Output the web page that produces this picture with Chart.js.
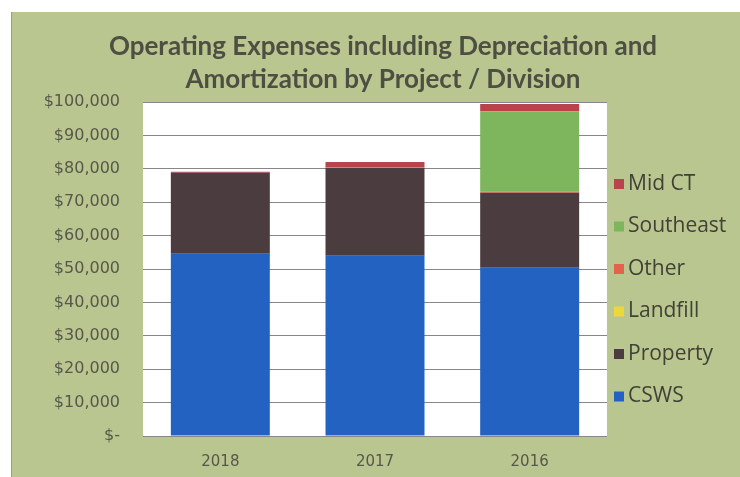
<!DOCTYPE html>
<html>
<head>
<meta charset="utf-8">
<script src="https://cdn.jsdelivr.net/npm/chart.js@4/dist/chart.umd.min.js"></script>
<style>
html,body{margin:0;padding:0;background:#fff;}
#wrap{width:740px;height:477px;position:relative;}
</style>
</head>
<body>
<div id="wrap"><canvas id="c" width="740" height="477"></canvas></div>
<script>
const titleLines = ["Operating Expenses including Depreciation and", "Amortization by Project / Division"];
const categories = ["2018", "2017", "2016"];
const seriesNames = ["CSWS", "Property", "Landfill", "Other", "Southeast", "Mid CT"];
const csws      = [54600, 54000, 50400];
const property  = [24200, 26300, 22400];
const landfill  = [0, 0, 0];
const other     = [0, 0, 300];
const southeast = [0, 200, 24100];
const midCT     = [300, 1500, 2200];
const yTicks = [0, 10000, 20000, 30000, 40000, 50000, 60000, 70000, 80000, 90000, 100000];

const colors = ["#2462c2", "#4b3d3f", "#ecd83c", "#e2634b", "#7db65c", "#b9434b"];
const values = [csws, property, landfill, other, southeast, midCT];

const bgPlugin = {
  id: 'bg',
  beforeDraw(chart) {
    const ctx = chart.ctx, a = chart.chartArea;
    ctx.save();
    ctx.fillStyle = '#ffffff';
    ctx.fillRect(0, 0, chart.width, chart.height);
    ctx.fillStyle = '#b9c690';
    ctx.fillRect(11, 12, chart.width - 11, chart.height - 12);
    ctx.strokeStyle = '#9aa07e';
    ctx.lineWidth = 1;
    ctx.beginPath(); ctx.moveTo(11.5, 12); ctx.lineTo(11.5, chart.height); ctx.stroke();
    ctx.fillStyle = '#ffffff';
    ctx.fillRect(a.left, a.top, a.right - a.left, a.bottom - a.top);
    ctx.restore();
  }
};

const titlePlugin = {
  id: 'customTitle',
  afterDraw(chart) {
    const ctx = chart.ctx;
    ctx.save();
    ctx.font = 'bold 26px Lato, "Open Sans", sans-serif';
    ctx.fillStyle = '#4c5042';
    ctx.textAlign = 'center';
    ctx.textBaseline = 'middle';
    titleLines.forEach((t, i) => ctx.fillText(t, 383, 47 + i * 33));
    ctx.restore();
  }
};

const legendPlugin = {
  id: 'customLegend',
  afterDraw(chart) {
    const ctx = chart.ctx;
    const ds = chart.data.datasets.slice().reverse();
    const x = 614, y0 = 184, step = 42.5;
    ctx.save();
    ctx.font = '21px "Open Sans", sans-serif';
    ctx.textBaseline = 'middle';
    ds.forEach((d, i) => {
      const y = y0 + i * step;
      ctx.fillStyle = d.backgroundColor;
      ctx.fillRect(x, y - 5, 10, 10);
      ctx.fillStyle = '#3f4235';
      ctx.fillText(d.label, x + 14, y);
    });
    ctx.restore();
  }
};

new Chart(document.getElementById('c'), {
  type: 'bar',
  data: {
    labels: categories,
    datasets: seriesNames.map((n, i) => ({
      label: n,
      data: values[i],
      backgroundColor: colors[i],
      borderWidth: 0,
      categoryPercentage: 0.8,
      barPercentage: 0.8
    }))
  },
  options: {
    responsive: false,
    animation: false,
    layout: { padding: { left: 0, right: 133, top: 102, bottom: 0 } },
    plugins: {
      legend: { display: false },
      tooltip: { enabled: false },
      title: { display: false }
    },
    scales: {
      x: {
        stacked: true,
        grid: { display: false, drawTicks: false },
        border: { display: false },
        ticks: { color: '#55584a', font: { family: '"DejaVu Sans", sans-serif', size: 15 }, padding: 17 },
        afterFit(s) { s.height = 41; }
      },
      y: {
        stacked: true,
        min: 0, max: 100000,
        afterBuildTicks(s) { s.ticks = yTicks.map(v => ({ value: v })); },
        grid: { color: '#878787', lineWidth: 1, drawTicks: false },
        border: { display: false },
        ticks: {
          color: '#55584a',
          font: { family: '"DejaVu Sans", sans-serif', size: 16 },
          padding: 23,
          callback: v => v === 0 ? '$-' : '$' + v.toLocaleString('en-US')
        },
        afterFit(s) { s.width = 143; }
      }
    }
  },
  plugins: [bgPlugin, titlePlugin, legendPlugin]
});
</script>
</body>
</html>
